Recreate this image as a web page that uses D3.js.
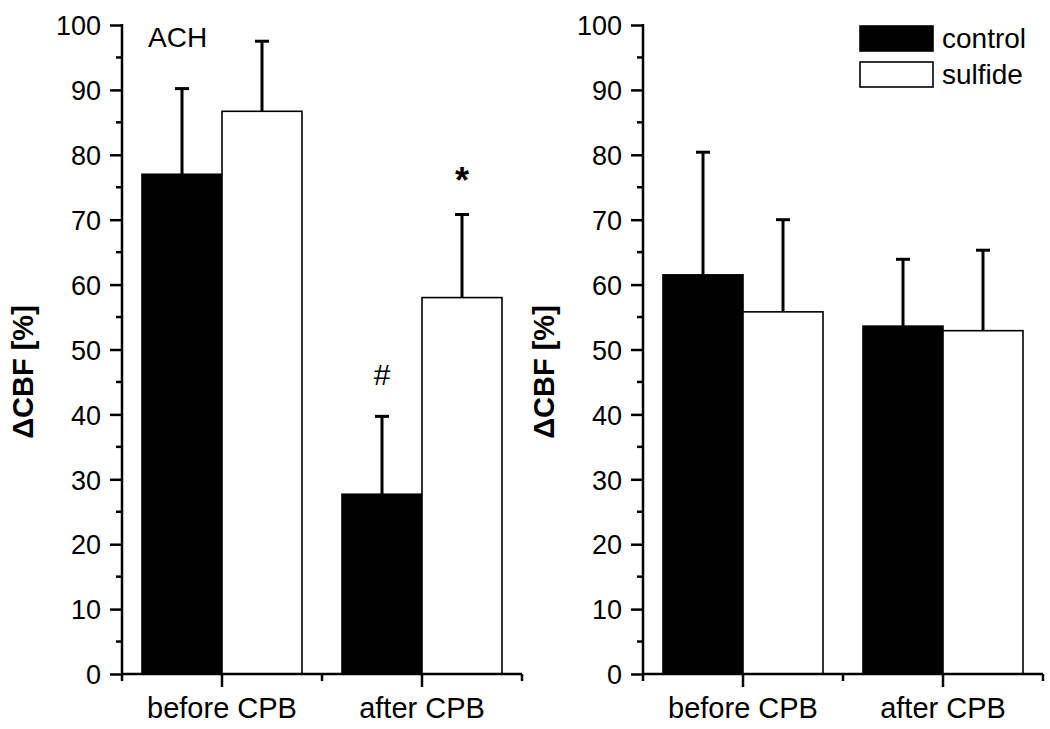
<!DOCTYPE html>
<html>
<head>
<meta charset="utf-8">
<script src="https://cdn.jsdelivr.net/npm/d3@7"></script>
<style>
  html, body { margin: 0; padding: 0; background: #fff; }
  svg { display: block; }
  text { font-family: "Liberation Sans", Arial, sans-serif; fill: #000; }
</style>
</head>
<body>
<svg id="chart" width="1050" height="729"></svg>
<script>
// ---- data ----
const categories = ["before CPB", "after CPB"];
const series = ["control", "sulfide"];
const yTicks = [0, 10, 20, 30, 40, 50, 60, 70, 80, 90, 100];

// left panel (ACH)
const achControl = [77.0, 27.7];
const achControlErr = [13.2, 12.0];
const achSulfide = [86.7, 58.0];
const achSulfideErr = [10.8, 12.8];
const achMarks = ["#", "*"]; // over control after CPB, sulfide after CPB

// right panel
const rControl = [61.5, 53.6];
const rControlErr = [18.9, 10.3];
const rSulfide = [55.8, 52.9];
const rSulfideErr = [14.2, 12.4];

const yLabel = "\u0394CBF [%]";

// ---- drawing ----
const svg = d3.select("#chart");
const plotTop = 25, plotBottom = 674, plotW = 400;
const FONT = "Liberation Sans, Arial, sans-serif";

const y = d3.scaleLinear().domain([0, 100]).range([plotBottom, plotTop]);

function panel(x0, control, controlErr, sulfide, sulfideErr) {
  const g = svg.append("g").attr("transform", `translate(${x0},0)`);
  const x = d3.scaleBand().domain(categories).range([0, plotW]).padding(0);
  const xs = d3.scaleBand().domain(series).range([0, x.bandwidth()]).paddingInner(0).paddingOuter(0.25);

  const rows = [];
  categories.forEach((c, i) => {
    rows.push({cat: c, s: "control", v: control[i], e: controlErr[i]});
    rows.push({cat: c, s: "sulfide", v: sulfide[i], e: sulfideErr[i]});
  });

  // bars
  g.selectAll("rect.bar").data(rows).join("rect")
    .attr("class", "bar")
    .attr("x", d => x(d.cat) + xs(d.s))
    .attr("y", d => y(d.v))
    .attr("width", xs.bandwidth())
    .attr("height", d => y(0) - y(d.v))
    .attr("fill", d => d.s === "control" ? "#000" : "#fff")
    .attr("stroke", "#000")
    .attr("stroke-width", 1.6);

  // error bars
  const cx = d => x(d.cat) + xs(d.s) + xs.bandwidth() / 2;
  g.selectAll("line.err").data(rows).join("line")
    .attr("x1", cx).attr("x2", cx)
    .attr("y1", d => y(d.v)).attr("y2", d => y(d.v + d.e))
    .attr("stroke", "#000").attr("stroke-width", 3);
  g.selectAll("line.cap").data(rows).join("line")
    .attr("x1", d => cx(d) - 7).attr("x2", d => cx(d) + 7)
    .attr("y1", d => y(d.v + d.e)).attr("y2", d => y(d.v + d.e))
    .attr("stroke", "#000").attr("stroke-width", 3);

  // y axis
  const yAxis = d3.axisLeft(y).tickValues(yTicks).tickSize(12).tickPadding(9).tickFormat(d3.format("d"));
  const ya = g.append("g").call(yAxis);
  ya.select(".domain").attr("d", `M0,${plotBottom}V${plotTop - 1}`).attr("stroke-width", 2.5);
  ya.selectAll(".tick line").attr("stroke-width", 2.5);
  ya.selectAll(".tick text").style("font-size", "27px").style("font-family", FONT).attr("dy", "0.36em");
  // minor y ticks
  const minor = d3.range(5, 100, 10);
  g.selectAll("line.ymin").data(minor).join("line")
    .attr("x1", -6).attr("x2", 0)
    .attr("y1", d => y(d)).attr("y2", d => y(d))
    .attr("stroke", "#000").attr("stroke-width", 2.5);

  // x axis
  const xAxis = d3.axisBottom(x).tickSize(13).tickPadding(10);
  const xa = g.append("g").attr("transform", `translate(0,${plotBottom})`).call(xAxis);
  xa.select(".domain").attr("d", `M0,0H${plotW}`).attr("stroke-width", 2.5);
  xa.selectAll(".tick line").attr("stroke-width", 2.5);
  xa.selectAll(".tick text").style("font-size", "29px").style("font-family", FONT).attr("y", 44).attr("dy", "0");
  // minor x ticks at category boundaries
  const bounds = categories.map(c => x(c)).concat([x(categories[categories.length - 1]) + x.bandwidth()]);
  g.selectAll("line.xmin").data(bounds).join("line")
    .attr("x1", d => d).attr("x2", d => d)
    .attr("y1", plotBottom).attr("y2", plotBottom + 7)
    .attr("stroke", "#000").attr("stroke-width", 2.5);

  // y label
  g.append("text")
    .attr("transform", `translate(${-89},372) rotate(-90)`)
    .attr("text-anchor", "middle")
    .style("font-size", "29px").style("font-weight", "bold")
    .text(yLabel);

  return {g, x, xs, rows, cx};
}

const L = panel(122, achControl, achControlErr, achSulfide, achSulfideErr);
L.g.append("text").attr("x", 26).attr("y", 47).style("font-size", "28px").text("ACH");
// significance marks
const markRows = [L.rows[2], L.rows[3]];
L.g.selectAll("text.mark").data(markRows).join("text")
  .attr("x", d => L.cx(d))
  .attr("y", (d, i) => y(d.v + d.e) - (i === 0 ? 31 : 22))
  .attr("text-anchor", "middle")
  .style("font-size", (d, i) => i === 0 ? "30px" : "36px")
  .style("font-weight", (d, i) => i === 0 ? "normal" : "bold")
  .text((d, i) => achMarks[i]);

const R = panel(643, rControl, rControlErr, rSulfide, rSulfideErr);

// legend
const leg = svg.append("g").attr("transform", "translate(860,26)");
series.forEach((s, i) => {
  leg.append("rect").attr("x", 0).attr("y", i * 36).attr("width", 73).attr("height", 25)
    .attr("fill", s === "control" ? "#000" : "#fff").attr("stroke", "#000").attr("stroke-width", 1.6);
  leg.append("text").attr("x", 82).attr("y", i * 36 + 22).style("font-size", "28px").text(s);
});
</script>
</body>
</html>
